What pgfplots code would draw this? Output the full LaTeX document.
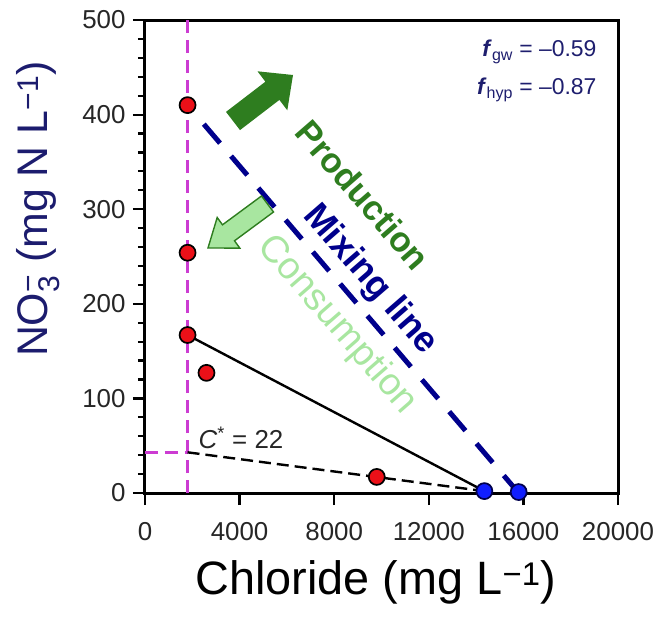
\documentclass[border=0pt]{standalone}
\usepackage{fontspec}
\setmainfont{Liberation Sans}
\usepackage{pgfplots}
\pgfplotsset{compat=1.18}
\definecolor{navyline}{RGB}{0,0,140}
\definecolor{ylab}{RGB}{28,28,110}
\definecolor{fcol}{RGB}{30,30,110}
\definecolor{magL}{RGB}{204,60,210}
\definecolor{dgreen}{RGB}{46,125,31}
\definecolor{lgreen}{RGB}{168,230,160}
\definecolor{ptred}{RGB}{235,16,24}
\definecolor{ptblue}{RGB}{16,30,255}
\begin{document}
\begin{tikzpicture}
\begin{axis}[name=ax, scale only axis, width=473bp, height=473bp,
  xmin=0, xmax=20000, ymin=0, ymax=500,
  xtick={0,4000,...,20000}, ytick={0,100,...,500}, minor y tick num=4,
  scaled x ticks=false,
  xticklabel style={/pgf/number format/1000 sep={}},
  /pgf/number format/assume math mode=true,
  tick align=outside, xtick pos=left, ytick pos=left,
  major tick length=12bp, minor tick length=7bp,
  tick style={black, line width=2.2bp},
  axis line style={line width=3bp},
  ticklabel style={font=\fontsize{26}{30}\selectfont, text=black!85},
  xticklabel style={yshift=-14bp},
  yticklabel style={xshift=-4bp},
  clip=false,
  xlabel={Chloride (mg L\textsuperscript{−1})},
  xlabel style={font=\fontsize{47}{52}\selectfont, at={(axis description cs:0.488,-0.19)}, anchor=center},
  ylabel={NO\rlap{\textsubscript{3}}\textsuperscript{−} (mg N L\textsuperscript{−1})},
  ylabel style={font=\fontsize{43}{50}\selectfont, text=ylab, at={(axis description cs:-0.226,0.60)}, anchor=center},
]
\addplot[magL, line width=2.5bp, dash pattern=on 13bp off 7bp] coordinates {(1800,0) (1800,500)};
\addplot[magL, line width=2.5bp, dash pattern=on 13bp off 7bp] coordinates {(0,43) (1800,43)};
\addplot[navyline, line width=5bp, dash pattern=on 25bp off 17bp, dash phase=17bp] coordinates {(1800,410) (15800,0)};
\addplot[black, line width=2.4bp] coordinates {(1800,167) (14350,2)};
\addplot[black, line width=2.4bp, dash pattern=on 12bp off 6bp] coordinates {(1800,43) (14350,2)};
\addplot[only marks, mark=*, mark size=8bp, mark options={fill=ptred, draw=black, line width=1.7bp}]
  coordinates {(1800,410) (1800,254) (1800,167) (2600,127) (9800,17)};
\addplot[only marks, mark=*, mark size=8bp, mark options={fill=ptblue, draw=black!70!blue, line width=1.7bp}]
  coordinates {(14350,2) (15800,1)};
\end{axis}
\begin{scope}[shift={(ax.south west)}, x=1bp, y=-1bp, shift={(-145,-493)}]
  % production arrow
  \fill[dgreen] (240.0,130.1) -- (279.4,99.9) -- (287.3,110.3) -- (293,75) -- (257.5,71.3) -- (265.4,81.7) -- (226.0,111.9) -- cycle;
  % consumption arrow
  \filldraw[fill=lgreen, draw=dgreen, line width=1.4bp] (273.5,212.0) -- (234.5,240.8) -- (239.8,248.1) -- (208,248) -- (217.2,217.5) -- (222.5,224.8) -- (261.5,196.0) -- cycle;
  \node[rotate=-49, text=dgreen, font=\fontsize{35}{40}\selectfont\bfseries] at (363,195) {Production};
  \node[rotate=-49, text=navyline, font=\fontsize{36}{40}\selectfont\bfseries] at (370,280) {Mixing line};
  \node[rotate=-49, text=lgreen, font=\fontsize{38}{42}\selectfont] at (337,325) {Consumption};
  \node[anchor=center, font=\fontsize{26}{30}\selectfont, text=black!85] at (241,438) {\textit{C}\textsuperscript{*} = 22};
  \node[anchor=base east, font=\fontsize{23}{27}\selectfont, text=fcol] at (600,57) {\textbf{\textit{f}}\textsubscript{gw} = –0.59};
  \node[anchor=base east, font=\fontsize{23}{27}\selectfont, text=fcol] at (600,95) {\textbf{\textit{f}}\textsubscript{hyp} = –0.87};
\end{scope}
\pgfresetboundingbox
\path ([shift={(-145bp,-126bp)}]ax.south west) rectangle ([shift={(39bp,20bp)}]ax.north east);
\end{tikzpicture}
\end{document}
